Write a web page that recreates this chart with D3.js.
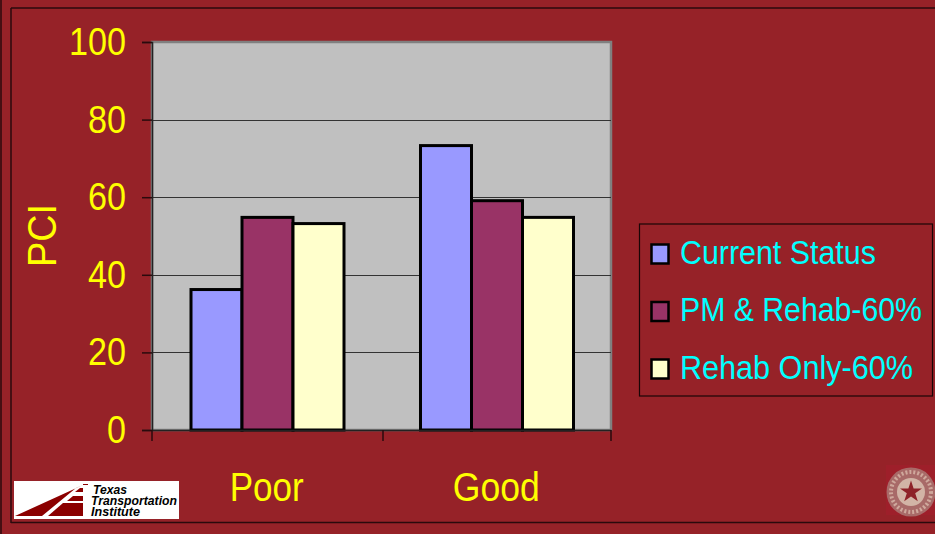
<!DOCTYPE html>
<html>
<head>
<meta charset="utf-8">
<script src="https://cdn.jsdelivr.net/npm/d3@7"></script>
<style>
  html, body { margin: 0; padding: 0; background: #962228; overflow: hidden; }
  text { font-family: "Liberation Sans", Arial, sans-serif; }
</style>
</head>
<body>
<script>
const categories = ["Poor", "Good"];
const seriesNames = ["Current Status", "PM & Rehab-60%", "Rehab Only-60%"];
const currentStatus = [36.2, 73.3];
const pmRehab = [54.8, 59.1];
const rehabOnly = [53.2, 54.8];
const yTicks = [0, 20, 40, 60, 80, 100];
const seriesColors = ["#9999ff", "#993366", "#ffffcc"];

const seriesValues = [currentStatus, pmRehab, rehabOnly];

const margin = { top: 42, left: 152 };
const width = 459;
const height = 388;

const svg = d3.select("body").append("svg")
    .attr("width", 935)
    .attr("height", 534)
    .style("display", "block");

// slide frame
svg.append("rect").attr("width", 935).attr("height", 534).attr("fill", "#962228");
const frameLines = [[11, 8, 935, 8], [11, 8, 11, 523], [11, 522.5, 935, 522.5], [1, 0, 1, 534]];
svg.append("g").selectAll("line")
    .data(frameLines)
    .enter()
    .append("line")
      .attr("x1", d => d[0])
      .attr("y1", d => d[1])
      .attr("x2", d => d[2])
      .attr("y2", d => d[3])
      .attr("stroke", "#2a0a0c")
      .attr("stroke-width", 1.5);

const chart = svg.append("g")
    .attr("transform", `translate(${margin.left}, ${margin.top})`);

const x = d3.scaleBand()
    .domain(categories)
    .range([0, width]);

const xInner = d3.scaleBand()
    .domain(d3.range(seriesNames.length))
    .range([0.75, x.bandwidth() + 0.75])
    .paddingOuter(0.75);

const y = d3.scaleLinear()
    .domain([0, 100])
    .range([height, 0]);

chart.append("rect")
    .attr("width", width)
    .attr("height", height)
    .attr("fill", "#c0c0c0")
    .attr("stroke", "#808080")
    .attr("stroke-width", 2.5);

// gridlines
chart.append("g")
  .selectAll("line")
  .data(yTicks.slice(1, -1))
  .enter()
  .append("line")
    .attr("x1", 0)
    .attr("x2", width)
    .attr("y1", d => Math.round(y(d)) + 0.5)
    .attr("y2", d => Math.round(y(d)) + 0.5)
    .attr("stroke", "#333333")
    .attr("stroke-width", 1);

// bars
seriesValues.forEach((values, s) => {
  chart.append("g")
    .selectAll("rect")
    .data(values)
    .enter()
    .append("rect")
      .attr("x", (d, i) => x(categories[i]) + xInner(s))
      .attr("y", d => y(d))
      .attr("width", xInner.bandwidth())
      .attr("height", d => height - y(d))
      .attr("fill", seriesColors[s])
      .attr("stroke", "#000")
      .attr("stroke-width", 3);
});

// axes
const yAxis = chart.append("g")
    .call(d3.axisLeft(y).tickValues(yTicks).tickSize(10).tickPadding(16));
yAxis.select(".domain").attr("stroke", "#222").attr("stroke-width", 1.5);
yAxis.selectAll("line").attr("stroke", "#2a0a0c").attr("stroke-width", 1.5);
yAxis.selectAll("text")
    .attr("fill", "#ffff00")
    .attr("textLength", d => String(d).length * 19)
    .attr("lengthAdjust", "spacingAndGlyphs")
    .style("font-size", "39px");

const xLabelWidths = [74, 87];
const xAxis = chart.append("g")
    .attr("transform", `translate(0, ${height})`)
    .call(d3.axisBottom(x).tickSize(0).tickPadding(43));
xAxis.select(".domain").attr("stroke", "#222").attr("stroke-width", 1.5);
xAxis.selectAll("text")
    .attr("fill", "#ffff00")
    .attr("textLength", (d, i) => xLabelWidths[i])
    .attr("lengthAdjust", "spacingAndGlyphs")
    .style("font-size", "40px");

// category separators on the x axis
chart.append("g")
  .selectAll("line")
  .data([0, 231, width])
  .enter()
  .append("line")
    .attr("x1", d => d)
    .attr("x2", d => d)
    .attr("y1", height)
    .attr("y2", height + 11)
    .attr("stroke", "#2a0a0c")
    .attr("stroke-width", 1.5);

svg.append("text")
    .attr("transform", "translate(56, 235.5) rotate(-90)")
    .attr("text-anchor", "middle")
    .attr("fill", "#ffff00")
    .attr("textLength", 63)
    .attr("lengthAdjust", "spacingAndGlyphs")
    .style("font-size", "40px")
    .text("PCI");

// legend
const legend = svg.append("g").attr("transform", "translate(639, 224)");
legend.append("rect")
    .attr("x", 0.5)
    .attr("y", 0)
    .attr("width", 293)
    .attr("height", 172)
    .attr("fill", "none")
    .attr("stroke", "#1a0506")
    .attr("stroke-width", 1.2);

const legendY = d3.scalePoint()
    .domain(seriesNames)
    .range([30, 145]);

const legendWidths = [196, 242, 233];

const legendRow = legend.selectAll(".row")
    .data(seriesNames)
    .enter()
    .append("g")
      .attr("class", "row")
      .attr("transform", d => `translate(0, ${legendY(d)})`);

legendRow.append("rect")
    .attr("x", 12.5)
    .attr("y", -9.5)
    .attr("width", 17)
    .attr("height", 19)
    .attr("fill", (d, i) => seriesColors[i])
    .attr("stroke", "#000")
    .attr("stroke-width", 2.5);

// squeeze the labels sideways to the reference widths
legendRow.append("text")
    .attr("fill", "#00ffff")
    .style("font-size", "34px")
    .text(d => d)
    .attr("transform", function (d, i) {
      const sx = legendWidths[i] / this.getComputedTextLength();
      return `translate(41, 9.5) scale(${sx}, 1)`;
    });

// TTI logo
const logo = svg.append("g").attr("transform", "translate(14, 481)");
logo.append("rect").attr("width", 165).attr("height", 38).attr("fill", "#fff");
const logoShapes = [
  [[1, 35], [28, 35], [62, 7], [69, 4]],
  [[34, 35], [69, 35], [69, 22], [49, 22]],
  [[53, 20], [69, 20], [69, 15], [59, 15]],
  [[61, 11], [69, 11], [69, 7], [66, 7]],
  [[69, 3], [74, 3], [74, 4], [69, 4]]
];
logo.selectAll("polygon")
    .data(logoShapes)
    .enter()
    .append("polygon")
      .attr("points", d => d.join(" "))
      .attr("fill", "#8b0000");
const logoWords = ["Texas", "Transportation", "Institute"];
const logoBaselines = [12.5, 24, 35];
logo.selectAll("text")
    .data(logoWords)
    .enter()
    .append("text")
      .attr("x", (d, i) => i === 0 ? 79 : 77)
      .attr("y", (d, i) => logoBaselines[i])
      .attr("fill", "#000")
      .style("font-size", "12.5px")
      .style("font-weight", "bold")
      .style("font-style", "italic")
      .attr("textLength", (d, i) => [34, 86, 49][i])
      .attr("lengthAdjust", "spacingAndGlyphs")
      .text(d => d);

// university seal
svg.append("rect")
    .attr("x", 886).attr("y", 465).attr("width", 49).attr("height", 50)
    .attr("fill", "#9e1f2a");
const seal = svg.append("g").attr("transform", "translate(911, 492)");
seal.append("circle").attr("r", 24.5).attr("fill", "#a86a68");
seal.append("circle").attr("r", 20).attr("fill", "none")
    .attr("stroke", "#cfa89c").attr("stroke-width", 4).attr("stroke-dasharray", "2 2");
seal.append("circle").attr("r", 14).attr("fill", "#d2b4a6");
seal.append("path")
    .attr("d", d3.symbol().type(d3.symbolStar).size(150))
    .attr("fill", "#8e2228");
</script>
</body>
</html>
